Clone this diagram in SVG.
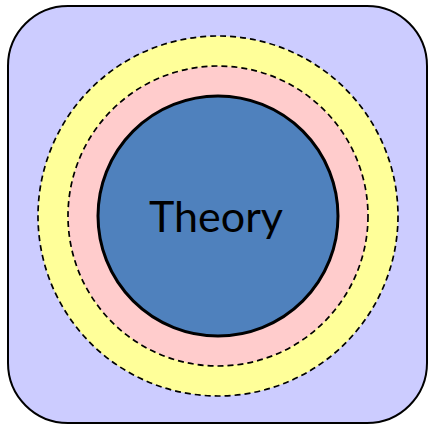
<svg xmlns="http://www.w3.org/2000/svg" width="428" height="424" viewBox="0 0 428 424">
<style>
.ring{stroke:#000;stroke-width:1.7;stroke-dasharray:6 4}
</style>
<g id="background"><rect x="8" y="6" width="419" height="417" rx="60" ry="60" fill="#ccccff" stroke="#000" stroke-width="2"/></g>
<g id="outer-ring"><circle class="ring" cx="218" cy="216" r="180" fill="#ffff99"/></g>
<g id="middle-ring"><circle class="ring" cx="218" cy="216" r="150" fill="#ffcccc"/></g>
<g id="theory"><circle cx="218" cy="216" r="120" fill="#4f81bd" stroke="#000" stroke-width="3"/>
<text x="216" y="232" font-family="Lato, 'Open Sans', sans-serif" font-size="43" text-anchor="middle" fill="#000">Theory</text></g>
<g id="connectors"/>
</svg>
